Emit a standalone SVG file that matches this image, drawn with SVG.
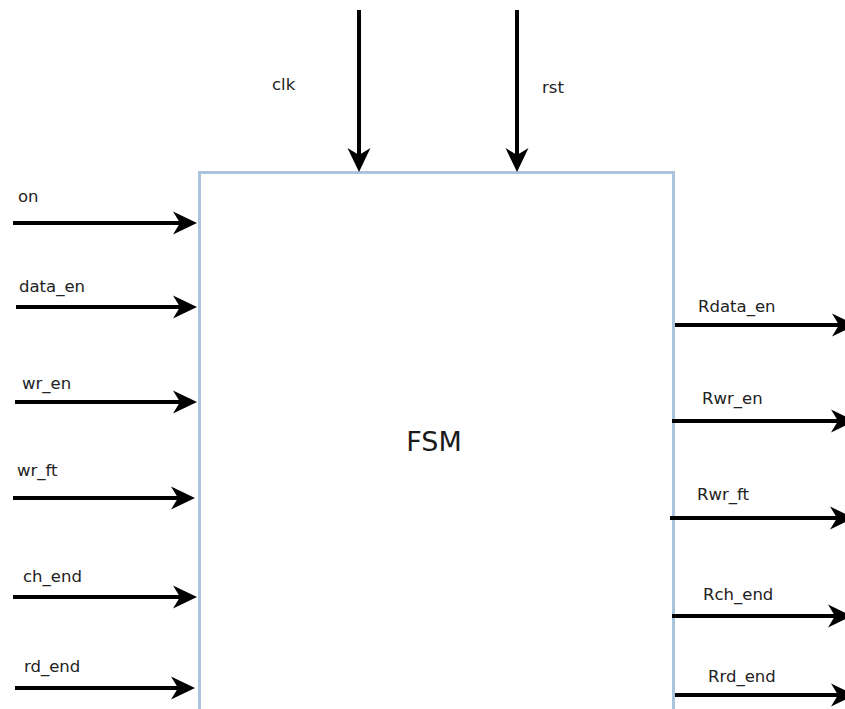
<svg xmlns="http://www.w3.org/2000/svg" width="845" height="709" viewBox="0 0 845 709">
  <style>
    .wire { stroke: #000; stroke-width: 4; fill: none; marker-end: url(#arrow); }
    .lbl { font-family: "DejaVu Sans", "Liberation Sans", sans-serif; font-size: 16.5px; fill: #222; }
    .title { font-family: "DejaVu Sans", "Liberation Sans", sans-serif; font-size: 27px; fill: #1a1a1a; }
    .box { fill: #fff; stroke: #a9c4dc; stroke-width: 3; }
  </style>
  <defs>
    <marker id="arrow" markerUnits="userSpaceOnUse" markerWidth="26" markerHeight="24" refX="14" refY="11.5" orient="auto" overflow="visible">
      <path d="M0,0 L24,11.5 L0,23 L7,11.5 Z" fill="#000"/>
    </marker>
  </defs>
  <rect width="845" height="709" fill="#fff"/>

  <g id="fsm">
    <rect class="box" x="199.5" y="172.5" width="474" height="560"/>
    <text class="title" x="434" y="451" text-anchor="middle">FSM</text>
  </g>

  <g id="connectors">
    <line class="wire" x1="359" y1="10" x2="359" y2="162"/>
    <line class="wire" x1="517" y1="10" x2="517" y2="162"/>
    <line class="wire" x1="13" y1="223" x2="187" y2="223"/>
    <line class="wire" x1="16" y1="307" x2="187" y2="307"/>
    <line class="wire" x1="15" y1="402" x2="187" y2="402"/>
    <line class="wire" x1="13" y1="498" x2="185" y2="498"/>
    <line class="wire" x1="13" y1="597" x2="187" y2="597"/>
    <line class="wire" x1="15" y1="688" x2="185" y2="688"/>
    <line class="wire" x1="675" y1="325" x2="846" y2="325"/>
    <line class="wire" x1="672" y1="421" x2="845" y2="421"/>
    <line class="wire" x1="670" y1="518" x2="844" y2="518"/>
    <line class="wire" x1="672" y1="616" x2="842" y2="616"/>
    <line class="wire" x1="675" y1="695" x2="845" y2="695"/>
  </g>

  <g id="clk"><text class="lbl" x="272" y="90">clk</text></g>
  <g id="rst"><text class="lbl" x="542" y="93">rst</text></g>
  <g id="on"><text class="lbl" x="18" y="202">on</text></g>
  <g id="data_en"><text class="lbl" x="19" y="292">data_en</text></g>
  <g id="wr_en"><text class="lbl" x="22" y="389">wr_en</text></g>
  <g id="wr_ft"><text class="lbl" x="17" y="476">wr_ft</text></g>
  <g id="ch_end"><text class="lbl" x="23" y="582">ch_end</text></g>
  <g id="rd_end"><text class="lbl" x="24" y="672">rd_end</text></g>
  <g id="Rdata_en"><text class="lbl" x="698" y="312">Rdata_en</text></g>
  <g id="Rwr_en"><text class="lbl" x="702" y="404">Rwr_en</text></g>
  <g id="Rwr_ft"><text class="lbl" x="697" y="500">Rwr_ft</text></g>
  <g id="Rch_end"><text class="lbl" x="703" y="600">Rch_end</text></g>
  <g id="Rrd_end"><text class="lbl" x="708" y="682">Rrd_end</text></g>
</svg>
